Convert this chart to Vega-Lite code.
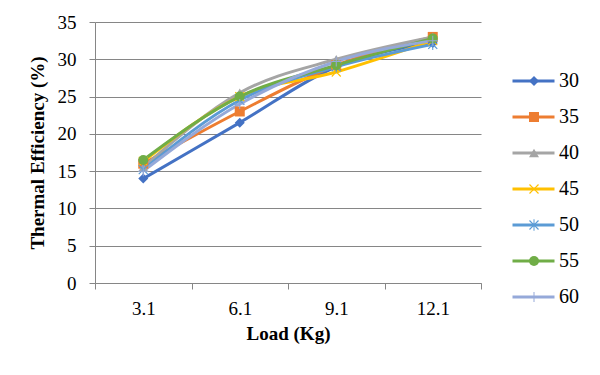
{
  "$schema": "https://vega.github.io/schema/vega-lite/v6.json",
  "width": 386,
  "height": 261,
  "autosize": {"type": "none"},
  "padding": {"left": 95, "top": 22, "right": 119, "bottom": 92},
  "background": "white",
  "config": {
    "view": {"stroke": null},
    "font": "Liberation Serif",
    "legend": {"labelFont": "Liberation Serif", "labelFontSize": 20, "labelColor": "#000000"},
    "axis": {
      "labelFont": "Liberation Serif",
      "labelFontSize": 19,
      "labelColor": "#000000",
      "titleFont": "Liberation Serif",
      "titleFontSize": 19,
      "titleFontWeight": "bold",
      "titleColor": "#000000",
      "domainColor": "#868686",
      "tickColor": "#868686",
      "gridColor": "#868686",
      "tickSize": 6
    }
  },
  "data": {
    "values": [
      {"series": "30", "load": "3.1", "eff": 14.0},
      {"series": "30", "load": "6.1", "eff": 21.5},
      {"series": "30", "load": "9.1", "eff": 29.0},
      {"series": "30", "load": "12.1", "eff": 32.2},
      {"series": "35", "load": "3.1", "eff": 16.0},
      {"series": "35", "load": "6.1", "eff": 23.0},
      {"series": "35", "load": "9.1", "eff": 29.2},
      {"series": "35", "load": "12.1", "eff": 33.0},
      {"series": "40", "load": "3.1", "eff": 15.5},
      {"series": "40", "load": "6.1", "eff": 25.5},
      {"series": "40", "load": "9.1", "eff": 30.0},
      {"series": "40", "load": "12.1", "eff": 33.0},
      {"series": "45", "load": "3.1", "eff": 16.3},
      {"series": "45", "load": "6.1", "eff": 25.0},
      {"series": "45", "load": "9.1", "eff": 28.3},
      {"series": "45", "load": "12.1", "eff": 32.5},
      {"series": "50", "load": "3.1", "eff": 15.2},
      {"series": "50", "load": "6.1", "eff": 24.5},
      {"series": "50", "load": "9.1", "eff": 29.0},
      {"series": "50", "load": "12.1", "eff": 32.0},
      {"series": "55", "load": "3.1", "eff": 16.5},
      {"series": "55", "load": "6.1", "eff": 25.0},
      {"series": "55", "load": "9.1", "eff": 29.2},
      {"series": "55", "load": "12.1", "eff": 32.8},
      {"series": "60", "load": "3.1", "eff": 15.0},
      {"series": "60", "load": "6.1", "eff": 24.0},
      {"series": "60", "load": "9.1", "eff": 29.7},
      {"series": "60", "load": "12.1", "eff": 32.5}
    ]
  },
  "encoding": {
    "x": {
      "field": "load", "type": "ordinal", "sort": null,
      "scale": {"type": "band", "paddingInner": 0, "paddingOuter": 0},
      "axis": {"title": "Load (Kg)", "labelAngle": 0, "tickBand": "extent", "labelPadding": 10, "titlePadding": 6, "grid": false}
    },
    "y": {
      "field": "eff", "type": "quantitative",
      "scale": {"domain": [0, 35], "nice": false},
      "axis": {"title": "Thermal Efficiency (%)", "values": [0, 5, 10, 15, 20, 25, 30, 35], "grid": true, "labelPadding": 13, "titlePadding": 10}
    }
  },
  "layer": [
    {
      "mark": {"type": "line", "strokeWidth": 3, "interpolate": "monotone"},
      "encoding": {
        "stroke": {
          "field": "series", "type": "nominal",
          "scale": {"domain": ["30", "35", "40", "45", "50", "55", "60"], "range": ["#4472C4", "#ED7D31", "#A5A5A5", "#FFC000", "#5B9BD5", "#70AD47", "#95A9D9"]},
          "legend": {"orient": "none", "legendX": 416, "legendY": 50, "title": null, "symbolType": "stroke", "symbolSize": 1764, "symbolStrokeWidth": 3, "labelFont": "Liberation Serif", "labelFontSize": 20, "labelColor": "#000000", "labelOffset": 3, "rowPadding": 16, "clipHeight": 18, "padding": 0}
        }
      }
    },
    {
      "mark": {"type": "point", "filled": true, "size": 100, "strokeWidth": 0, "opacity": 1, "fillOpacity": 1},
      "encoding": {
        "fill": {
          "field": "series", "type": "nominal",
          "scale": {"range": ["#4472C4", "#ED7D31", "#A5A5A5", "#FFC000", "#5B9BD5", "#70AD47", "#95A9D9"]},
          "legend": {"orient": "none", "legendX": 429, "legendY": 50, "title": null, "symbolSize": 100, "symbolStrokeWidth": 0, "labelExpr": "''", "rowPadding": 16, "clipHeight": 18, "padding": 0}
        },
        "shape": {
          "field": "series", "type": "nominal",
          "scale": {"range": ["diamond", "square", "triangle-up", "M0,-0.17L0.815,-0.985L0.985,-0.815L0.17,0L0.985,0.815L0.815,0.985L0,0.17L-0.815,0.985L-0.985,0.815L-0.17,0L-0.985,-0.815L-0.815,-0.985Z", "M0,-0.17L0.815,-0.985L0.985,-0.815L0.17,0L0.985,0.815L0.815,0.985L0,0.17L-0.815,0.985L-0.985,0.815L-0.17,0L-0.985,-0.815L-0.815,-0.985ZM-0.1,-1.15H0.1V1.15H-0.1Z", "circle", "M-0.1,-1H0.1V-0.1H1V0.1H0.1V1H-0.1V0.1H-1V-0.1H-0.1Z"]},
          "legend": {"orient": "none", "legendX": 429, "legendY": 50, "title": null, "symbolSize": 100, "symbolStrokeWidth": 0, "labelExpr": "''", "rowPadding": 16, "clipHeight": 18, "padding": 0}
        }
      }
    }
  ]
}
